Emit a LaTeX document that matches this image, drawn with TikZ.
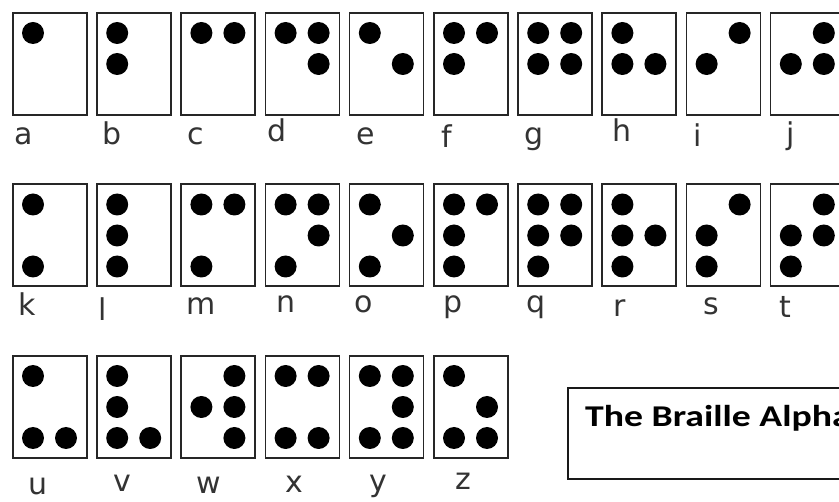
\documentclass[tikz,border=0pt]{standalone}
\usepackage{fontspec}
\newfontfamily\labelfont{DejaVu Sans}
\newfontfamily\titlefont[FakeStretch=1.25]{Carlito}
\usepackage{tikz}

\tikzset{
  cellbox/.style={rectangle,draw=black!85,line width=1.6pt,minimum width=74pt,minimum height=102pt,anchor=north west,inner sep=0pt},
  dotmark/.style={fill=black},
  letter/.style={font=\labelfont\fontsize{30}{30}\selectfont,anchor=base,text=black!80,inner sep=0pt},
  titleframe/.style={rectangle,draw=black!90,line width=1.6pt,minimum width=320pt,minimum height=91pt,anchor=north west,inner sep=0pt},
  titletext/.style={font=\titlefont\bfseries\fontsize{30.2}{30.2}\selectfont,anchor=base west,inner sep=0pt}
}

\begin{document}
\begin{tikzpicture}[x=1pt,y=-1pt]
    \useasboundingbox (0,0) rectangle (839,502);
    \clip (0,0) rectangle (839,502);
    \fill[white] (0,0) rectangle (839,502);

    % Braille cells: letter / column / row / raised dots
    \foreach \ch/\col/\row/\pts in {a/0/0/{1}, b/1/0/{1,2}, c/2/0/{1,4}, d/3/0/{1,4,5}, e/4/0/{1,5},
        f/5/0/{1,2,4}, g/6/0/{1,2,4,5}, h/7/0/{1,2,5}, i/8/0/{2,4}, j/9/0/{2,4,5},
        k/0/1/{1,3}, l/1/1/{1,2,3}, m/2/1/{1,3,4}, n/3/1/{1,3,4,5}, o/4/1/{1,3,5},
        p/5/1/{1,2,3,4}, q/6/1/{1,2,3,4,5}, r/7/1/{1,2,3,5}, s/8/1/{2,3,4}, t/9/1/{2,3,4,5},
        u/0/2/{1,3,6}, v/1/2/{1,2,3,6}, w/2/2/{2,4,5,6}, x/3/2/{1,3,4,6}, y/4/2/{1,3,4,5,6}, z/5/2/{1,3,5,6}} {
        \pgfmathsetmacro\cx{12+84.2*\col}
        \pgfmathsetmacro\cy{12+171.5*\row}
        \node[cellbox] (cell-\ch) at (\cx,\cy) {};
        \foreach \d in \pts {
            \pgfmathtruncatemacro\dc{int((\d-1)/3)}
            \pgfmathtruncatemacro\dr{mod(\d-1,3)}
            \fill[dotmark] (\cx+21+33*\dc,\cy+21+31*\dr) circle[radius=11pt];
        }
    }

    % Letters under the cells
    \foreach \ch/\lx/\ly in {a/24/145, b/112/145, c/196/145, d/277/142, e/366/145,
        f/447/148, g/534/145, h/622/142, i/698/147, j/791/145,
        k/27/316, l/103/321, m/201/315, n/286/313, o/364/313,
        p/453/313, q/536/313, r/620/317, s/711/315, t/785/318,
        u/38/495, v/122/492, w/209/494, x/294/493, y/378/492, z/463/490}
        \node[letter] (lbl-\ch) at (\lx,\ly) {\ch};

    % Title
    \node[titleframe] (title-box) at (567,387) {};
    \node[titletext] (title) at (585,427) {The Braille Alphabet};
\end{tikzpicture}
\end{document}
